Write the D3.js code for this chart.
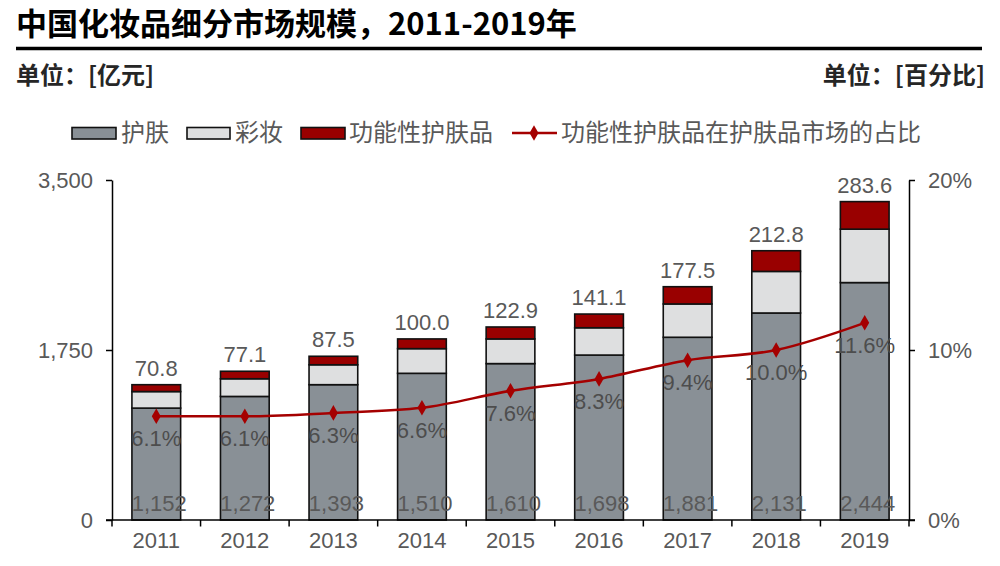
<!DOCTYPE html>
<html>
<head>
<meta charset="utf-8">
<script src="https://cdn.jsdelivr.net/npm/d3@7"></script>
<style>
  html, body { margin: 0; padding: 0; background: #fff; }
  svg { display: block; }
</style>
</head>
<body>
<svg id="chart" width="1000" height="566"></svg>
<script>
// ---- data ----
const years = ["2011","2012","2013","2014","2015","2016","2017","2018","2019"];
const skincare = [1152, 1272, 1393, 1510, 1610, 1698, 1881, 2131, 2444];     // 护肤
const makeup = [170, 182, 205, 254, 254, 281, 343, 428, 550];                // 彩妆 (estimated)
const functional = [70.8, 77.1, 87.5, 100.0, 122.9, 141.1, 177.5, 212.8, 283.6]; // 功能性护肤品
const share = [6.1, 6.1, 6.3, 6.6, 7.6, 8.3, 9.4, 10.0, 11.6];               // 占比 %
const leftTicks = [0, 1750, 3500];
const rightTicks = [0, 10, 20];
const seriesNames = ["护肤", "彩妆", "功能性护肤品", "功能性护肤品在护肤品市场的占比"];
const titleText = "中国化妆品细分市场规模，2011-2019年";
const unitLeft = "单位：[亿元]";
const unitRight = "单位：[百分比]";

// ---- style ----
const CJK = "'Noto Sans CJK SC', 'Noto Sans', sans-serif";
const NUM = "'Liberation Sans', Arial, sans-serif";
const colors = ["#899096", "#dedfe0", "#990000"];
const lineColor = "#a50000";
const textGray = "#595959";

const svg = d3.select("#chart");

// title
svg.append("text").attr("x", 16).attr("y", 35)
  .attr("font-family", CJK).attr("font-size", 31).attr("font-weight", "bold")
  .attr("fill", "#000").text(titleText);
svg.append("line").attr("x1", 16).attr("x2", 982).attr("y1", 48.5).attr("y2", 48.5)
  .attr("stroke", "#000").attr("stroke-width", 3.5);
svg.append("text").attr("x", 16).attr("y", 84)
  .attr("font-family", CJK).attr("font-size", 24).attr("font-weight", "bold")
  .attr("fill", "#262626").text(unitLeft);
svg.append("text").attr("x", 985).attr("y", 84).attr("text-anchor", "end")
  .attr("font-family", CJK).attr("font-size", 24).attr("font-weight", "bold")
  .attr("fill", "#262626").text(unitRight);

// scales
const x = d3.scaleBand().domain(years).range([112, 909]).padding(0);
const barW = x.bandwidth() * 0.55;
const y = d3.scaleLinear().domain([0, 3500]).range([520, 180]);
const y2 = d3.scaleLinear().domain([0, 20]).range([520, 180]);

// stacked data
const stackInput = years.map((yr, i) => ({ year: yr, a: skincare[i], b: makeup[i], c: functional[i] }));
const stack = d3.stack().keys(["a", "b", "c"])(stackInput);

const plot = svg.append("g");
stack.forEach((layer, li) => {
  plot.append("g").selectAll("rect").data(layer).join("rect")
    .attr("x", d => x(d.data.year) + (x.bandwidth() - barW) / 2)
    .attr("width", barW)
    .attr("y", d => y(d[1]))
    .attr("height", d => y(d[0]) - y(d[1]))
    .attr("fill", colors[li])
    .attr("stroke", "#111")
    .attr("stroke-width", 1.6);
});

// axes
const axisFont = g => g.selectAll("text").attr("font-family", NUM).attr("font-size", 22).attr("fill", textGray);
const leftAxis = svg.append("g").attr("transform", "translate(112,0)")
  .call(d3.axisLeft(y).tickValues(leftTicks).tickFormat(d3.format(",")).tickSize(6).tickPadding(13).tickSizeOuter(0));
leftAxis.call(axisFont);
leftAxis.select(".domain").attr("stroke", "#000").attr("stroke-width", 1.5);
leftAxis.selectAll(".tick line").attr("stroke", "#000").attr("stroke-width", 1.5);

const rightAxis = svg.append("g").attr("transform", "translate(909,0)")
  .call(d3.axisRight(y2).tickValues(rightTicks).tickFormat(d => d + "%").tickSize(6).tickPadding(13).tickSizeOuter(0));
rightAxis.call(axisFont);
rightAxis.select(".domain").attr("stroke", "#000").attr("stroke-width", 1.5);
rightAxis.selectAll(".tick line").attr("stroke", "#000").attr("stroke-width", 1.5);

// bottom axis: line + boundary ticks
const bottom = svg.append("g");
bottom.append("line").attr("x1", 106).attr("x2", 915).attr("y1", 520).attr("y2", 520)
  .attr("stroke", "#000").attr("stroke-width", 1.5);
const boundaries = years.map(d => x(d)).concat([x(years[years.length - 1]) + x.bandwidth()]);
bottom.selectAll("line.t").data(boundaries).join("line").attr("class", "t")
  .attr("x1", d => d).attr("x2", d => d).attr("y1", 520).attr("y2", 526.5)
  .attr("stroke", "#000").attr("stroke-width", 1.5);
bottom.selectAll("text").data(years).join("text")
  .attr("x", d => x(d) + x.bandwidth() / 2).attr("y", 548)
  .attr("text-anchor", "middle").attr("font-family", NUM).attr("font-size", 22)
  .attr("fill", textGray).text(d => d);

// skincare value labels (inside base)
plot.append("g").selectAll("text").data(stackInput).join("text")
  .attr("x", d => x(d.year) + x.bandwidth() / 2 + 3)
  .attr("y", y(0) - 9)
  .attr("text-anchor", "middle").attr("font-family", NUM).attr("font-size", 22)
  .attr("fill", textGray).text(d => d3.format(",")(d.a));

// functional totals above bars
plot.append("g").selectAll("text").data(stack[2]).join("text")
  .attr("x", d => x(d.data.year) + x.bandwidth() / 2)
  .attr("y", d => y(d[1]) - 9)
  .attr("text-anchor", "middle").attr("font-family", NUM).attr("font-size", 22)
  .attr("fill", textGray).text(d => d.data.c.toFixed(1));

// share line
const linePts = years.map((yr, i) => ({ year: yr, v: share[i] }));
const line = d3.line().x(d => x(d.year) + x.bandwidth() / 2).y(d => y2(d.v)).curve(d3.curveMonotoneX);
svg.append("path").datum(linePts).attr("d", line)
  .attr("fill", "none").attr("stroke", lineColor).attr("stroke-width", 2.5);
const diamond = d3.symbol().type(d3.symbolDiamond).size(70);
svg.append("g").selectAll("path").data(linePts).join("path")
  .attr("transform", d => `translate(${x(d.year) + x.bandwidth() / 2},${y2(d.v)})`)
  .attr("d", diamond).attr("fill", lineColor);
svg.append("g").selectAll("text").data(linePts).join("text")
  .attr("x", d => x(d.year) + x.bandwidth() / 2)
  .attr("y", d => y2(d.v) + 30)
  .attr("text-anchor", "middle").attr("font-family", NUM).attr("font-size", 22)
  .attr("fill", "#4d4d4d").text(d => d.v.toFixed(1) + "%");

// legend
const legend = svg.append("g");
const legItems = [
  { x: 72, w: 44, tx: 121 },
  { x: 187, w: 43, tx: 235 },
  { x: 301, w: 44, tx: 349 }
];
legItems.forEach((it, i) => {
  legend.append("rect").attr("x", it.x).attr("y", 127.5).attr("width", it.w).attr("height", 11.5)
    .attr("fill", colors[i]).attr("stroke", "#111").attr("stroke-width", 1.6);
  legend.append("text").attr("x", it.tx).attr("y", 141)
    .attr("font-family", CJK).attr("font-size", 24).attr("fill", textGray).text(seriesNames[i]);
});
legend.append("line").attr("x1", 512).attr("x2", 557).attr("y1", 133).attr("y2", 133)
  .attr("stroke", lineColor).attr("stroke-width", 2.5);
legend.append("path").attr("transform", "translate(534,133)").attr("d", diamond).attr("fill", lineColor);
legend.append("text").attr("x", 561).attr("y", 141)
  .attr("font-family", CJK).attr("font-size", 24).attr("fill", textGray).text(seriesNames[3]);
</script>
</body>
</html>
